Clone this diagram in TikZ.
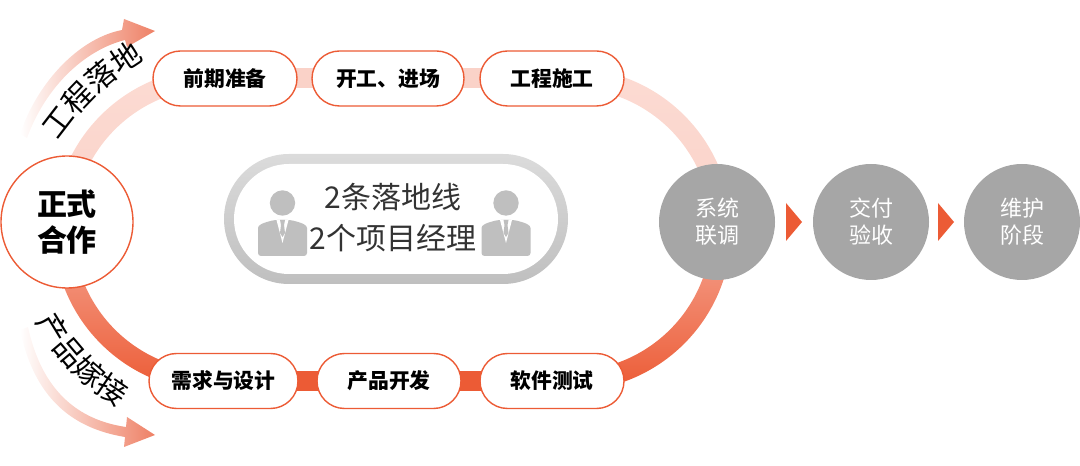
\documentclass[tikz,border=0pt]{standalone}
\usepackage{fontspec}
\setmainfont{Noto Sans CJK SC}
\usetikzlibrary{decorations.text,shapes.misc,calc}
\definecolor{org}{HTML}{EC5B35}
\definecolor{pale}{HTML}{FAD2C8}
\definecolor{palelt}{HTML}{FCDBD3}
\definecolor{mid}{HTML}{F5A592}
\definecolor{headc}{HTML}{EE8065}
\definecolor{midarrow}{HTML}{FAD0C4}
\definecolor{graycirc}{HTML}{A6A6A6}
\definecolor{iconc}{HTML}{BFBFBF}
\tikzset{
  pill/.style={draw=org,line width=1.4pt,fill=white,rounded rectangle,minimum width=144pt,minimum height=55pt,inner sep=0pt,font=\fontsize{20.8}{22}\selectfont\bfseries,text=black},
  grayc/.style={circle,fill=graycirc,minimum size=116pt,inner sep=0pt,text=white,align=center,font=\fontsize{22}{27}\selectfont},
  paleLink/.style={pale,line width=20pt},
  orgLink/.style={org,line width=20pt},
  fadearrow/.style={left color=white,middle color=midarrow,right color=headc},
}
\newcommand{\person}[2]{%
  \fill[iconc] (#1,#2+20) circle (12.7);
  \fill[iconc,rounded corners=3pt] (#1-24.5,#2-33) -- (#1-24.5,#2-8) .. controls (#1-24.5,#2-2) and (#1-20,#2) .. (#1-8,#2+3) -- (#1+8,#2+3) .. controls (#1+20,#2) and (#1+24.5,#2-2) .. (#1+24.5,#2-8) -- (#1+24.5,#2-33) -- cycle;
  \fill[white] (#1-6,#2+3) -- (#1+6,#2+3) -- (#1,#2-20) -- cycle;
  \fill[iconc] (#1-2.5,#2+3) -- (#1+2.5,#2+3) -- (#1+1.5,#2-2) -- (#1+2.5,#2-10) -- (#1,#2-14) -- (#1-2.5,#2-10) -- (#1-1.5,#2-2) -- cycle;
}
\begin{document}
\begin{tikzpicture}[x=1pt,y=1pt]
\useasboundingbox (0,0) rectangle (1080,466);
% ring arcs
\coordinate (cl) at (215,236.5);
\coordinate (cr) at (570,236.5);
\shade[top color=palelt,bottom color=pale] ($(cl)+(90:161.5)$) arc (90:180:161.5) -- ($(cl)+(180:141.5)$) arc (180:90:141.5) -- cycle;
\shade[top color=palelt,bottom color=pale] ($(cr)+(90:161.5)$) arc (90:0:161.5) -- ($(cr)+(0:141.5)$) arc (0:90:141.5) -- cycle;
\shade[top color=mid,bottom color=org] ($(cl)+(180:161.5)$) arc (180:270:161.5) -- ($(cl)+(270:141.5)$) arc (270:180:141.5) -- cycle;
\shade[top color=mid,bottom color=org] ($(cr)+(0:161.5)$) arc (0:-90:161.5) -- ($(cr)+(-90:141.5)$) arc (-90:0:141.5) -- cycle;
% links, then the nodes over them
\coordinate (la1) at (225,387.5);
\coordinate (la2) at (388,387.5);
\coordinate (la3) at (552,387.5);
\coordinate (lb1) at (223.5,85);
\coordinate (lb2) at (389,85);
\coordinate (lb3) at (552,85);
\draw[paleLink] (la1) -- (la2) -- (la3);
\draw[orgLink] (lb1) -- (lb2) -- (lb3);
\node[pill] (a1) at (la1) {前期准备};
\node[pill,minimum width=152pt] (a2) at (la2) {开工、进场};
\node[pill] (a3) at (la3) {工程施工};
\node[pill,minimum width=149pt] (b1) at (lb1) {需求与设计};
\node[pill] (b2) at (lb2) {产品开发};
\node[pill] (b3) at (lb3) {软件测试};
\node[circle,draw=org,line width=1.4pt,fill=white,minimum size=132pt,inner sep=0pt,align=center,font=\fontsize{30}{36}\selectfont\bfseries] (start) at (67,244) {正式\\合作};
\node[grayc] (s1) at (717,244) {系统\\联调};
\node[grayc] (s2) at (871,244) {交付\\验收};
\node[grayc] (s3) at (1022,244) {维护\\阶段};
\fill[org] (786,263) -- (802,244) -- (786,225) -- cycle;
\fill[org] (938,263) -- (954,244) -- (938,225) -- cycle;
% centre capsule
\shade[top color=black!14,bottom color=iconc,rounded corners=65pt] (224,182) rectangle (568,312);
\fill[white,rounded corners=55pt] (234,192) rectangle (558,302);
\node[font=\fontsize{30}{41}\selectfont,text=black!80,align=center,inner sep=0pt] (cap) at (393,248) {2条落地线\\2个项目经理};
\person{282.5}{243}
\person{506}{243}
% outer arrows
\shade[fadearrow] (20,332) .. controls (38,385) and (80,428) .. (122,436) -- (124,447) -- (155,435) -- (127,419) -- (125,426) .. controls (85,416) and (46,380) .. (27,328) -- cycle;
\shade[fadearrow] (20,136) .. controls (34,70) and (70,38) .. (125,29) -- (124,19) -- (155,31) -- (127,49) -- (126,39) .. controls (78,46) and (42,75) .. (28,139) -- cycle;
% curved labels
\path[decorate,decoration={text along path,text align=center,text={|\fontsize{30}{30}\selectfont|工程落地}}] (48,311) .. controls (70,348) and (106,388) .. (160,415);
\path[decorate,decoration={text along path,text align=center,text={|\fontsize{30}{30}\selectfont|产品嫁接}}] (26,168) .. controls (46,112) and (86,74) .. (141,47);
\end{tikzpicture}
\end{document}
